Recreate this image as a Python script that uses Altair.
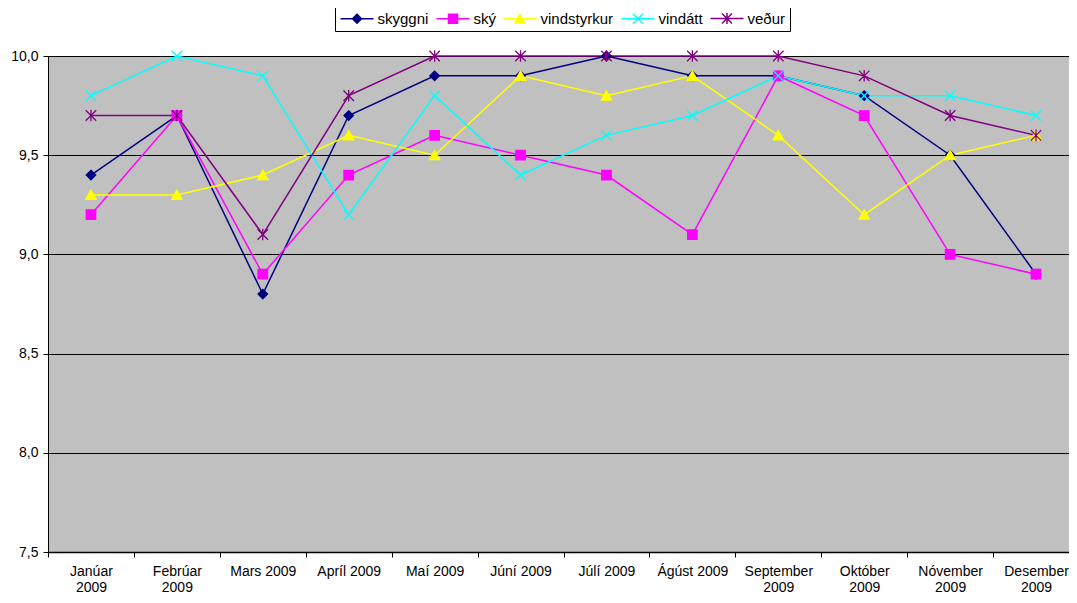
import altair as alt
import pandas as pd

months = ["Janúar 2009", "Febrúar 2009", "Mars 2009", "Apríl 2009", "Maí 2009",
          "Júní 2009", "Júlí 2009", "Ágúst 2009", "September 2009",
          "Október 2009", "Nóvember 2009", "Desember 2009"]

series = ["skyggni", "ský", "vindstyrkur", "vindátt", "veður"]
colors = ["#000080", "#FF00FF", "#FFFF00", "#00FFFF", "#800080"]

skyggni = [9.4, 9.7, 8.8, 9.7, 9.9, 9.9, 10.0, 9.9, 9.9, 9.8, 9.5, 8.9]
sky = [9.2, 9.7, 8.9, 9.4, 9.6, 9.5, 9.4, 9.1, 9.9, 9.7, 9.0, 8.9]
vindstyrkur = [9.3, 9.3, 9.4, 9.6, 9.5, 9.9, 9.8, 9.9, 9.6, 9.2, 9.5, 9.6]
vindatt = [9.8, 10.0, 9.9, 9.2, 9.8, 9.4, 9.6, 9.7, 9.9, 9.8, 9.8, 9.7]
vedur = [9.7, 9.7, 9.1, 9.8, 10.0, 10.0, 10.0, 10.0, 10.0, 9.9, 9.7, 9.6]

y_ticks = [7.5, 8.0, 8.5, 9.0, 9.5, 10.0]

values = [skyggni, sky, vindstyrkur, vindatt, vedur]

# marker shapes (unit paths)
marker_paths = [
    "M0,-0.9L0.9,0L0,0.9L-0.9,0Z",
    "M-0.9,-0.9L0.9,-0.9L0.9,0.9L-0.9,0.9Z",
    "M0,-0.9L1,0.85L-1,0.85Z",
    "M-1,-1L1,1M-1,1L1,-1",
    "M-1,-1L1,1M-1,1L1,-1M0,-1.1L0,1.1",
]
legend_paths = ["M-3.3,0L3.3,0" + p for p in marker_paths]

rows = []
for s, vals in zip(series, values):
    for m, v in zip(months, vals):
        rows.append({"series": s, "month": m, "value": v})
df = pd.DataFrame(rows)

FONT = "Liberation Sans, Arial, sans-serif"

stroke_scale = alt.Scale(domain=series, range=colors)
fill_scale = alt.Scale(domain=series, range=colors)
shape_scale = alt.Scale(domain=series, range=legend_paths)

leg = alt.Legend(
    title=None, orient="none", legendX=287, legendY=-49, direction="horizontal",
    labelFontSize=15, labelFont=FONT, labelColor="black",
    symbolSize=100, symbolStrokeWidth=1.5, symbolOffset=10.5, labelOffset=13,
    columnPadding=4, padding=4, strokeColor="black", fillColor="white",
    symbolOpacity=1,
)

x_enc = alt.X(
    "month:N", sort=months, bandPosition=0.5,
    scale=alt.Scale(type="band", paddingInner=0, paddingOuter=0),
    axis=alt.Axis(
        title=None, labelAngle=0, tickBand="extent", grid=False,
        labelExpr="length(datum.label) > 10 ? split(datum.label, ' ') : datum.label",
        labelFontSize=14, labelFont=FONT, labelColor="black",
        labelLineHeight=16, labelPadding=7, labelOverlap=False, labelBound=False,
        tickSize=5, tickColor="black", domainColor="black", domainWidth=1.5,
    ),
)
y_enc = alt.Y(
    "value:Q",
    scale=alt.Scale(domain=[7.5, 10.0], nice=False, zero=False),
    axis=alt.Axis(
        title=None, values=y_ticks,
        labelExpr="replace(format(datum.value, '.1f'), '.', ',')",
        labelFontSize=14, labelFont=FONT, labelColor="black", labelPadding=5,
        tickSize=5, tickColor="black", domainColor="black",
        grid=True, gridColor="black", gridWidth=1,
    ),
)

base = alt.Chart(df)

layers = []
layers.append(
    base.mark_line(strokeWidth=1.5).encode(
        x=x_enc, y=y_enc,
        stroke=alt.Stroke("series:N", scale=stroke_scale, legend=leg),
    )
)
for s, path in zip(series, marker_paths):
    layers.append(
        base.transform_filter(alt.datum.series == s)
        .mark_point(shape=path, filled=True, size=110, strokeWidth=1.3, opacity=1)
        .encode(
            x=x_enc, y=y_enc,
            fill=alt.Fill("series:N", scale=fill_scale, legend=leg),
            stroke=alt.Stroke("series:N", scale=stroke_scale, legend=leg),
        )
    )

layers.append(
    base.transform_filter("false")
    .mark_point(filled=True, size=100, strokeWidth=1.5, opacity=1)
    .encode(
        x=x_enc, y=y_enc,
        fill=alt.Fill("series:N", scale=fill_scale, legend=leg),
        stroke=alt.Stroke("series:N", scale=stroke_scale, legend=leg),
        shape=alt.Shape("series:N", scale=shape_scale, legend=leg),
    )
)

chart = alt.layer(*layers).properties(
    width=1031, height=496,
    autosize=alt.AutoSizeParams(type="none"),
    padding={"left": 40, "top": 48, "right": -10, "bottom": 43},
    background="white",
).configure_view(fill="#C0C0C0", stroke="#808080", strokeWidth=1)

chart.save("out.html", embed_options={"renderer": "svg", "actions": False})
